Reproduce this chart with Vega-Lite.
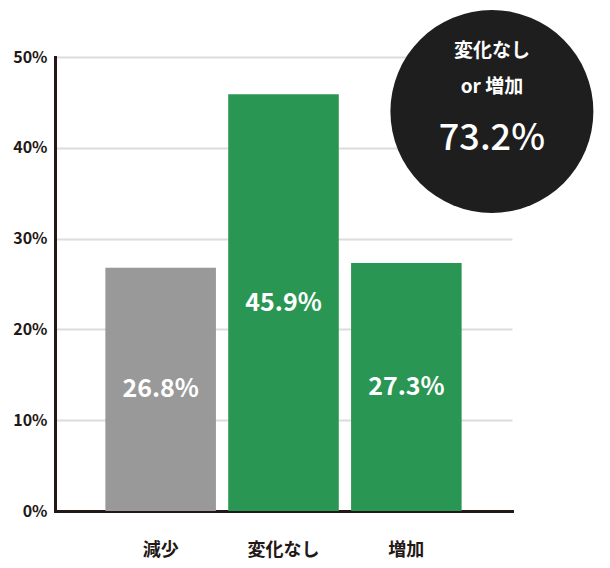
{
  "$schema": "https://vega.github.io/schema/vega-lite/v6.json",
  "width": 457,
  "height": 454,
  "autosize": {"type": "none"},
  "padding": {"left": 55, "top": 57, "right": 98, "bottom": 57},
  "background": "white",
  "datasets": {
    "bars": [
      {"category": "減少", "value": 26.8, "kind": "down"},
      {"category": "変化なし", "value": 45.9, "kind": "up"},
      {"category": "増加", "value": 27.3, "kind": "up"}
    ],
    "summary": [
      {"line1": "変化なし", "line2": "or 増加", "total": 73.2}
    ]
  },
  "layer": [
    {
      "data": {"name": "bars"},
      "layer": [
        {
          "mark": {"type": "bar"},
          "encoding": {
            "color": {
              "field": "kind",
              "type": "nominal",
              "scale": {"domain": ["down", "up"], "range": ["#999999", "#2a9653"]},
              "legend": null
            }
          }
        },
        {
          "transform": [
            {"calculate": "datum.value / 2", "as": "mid"},
            {"calculate": "format(datum.value, '.1f') + '%'", "as": "label"}
          ],
          "mark": {"type": "text", "color": "white", "fontSize": 25, "fontWeight": "bold", "font": "Noto Sans CJK JP", "baseline": "middle"},
          "encoding": {
            "y": {"field": "mid", "type": "quantitative"},
            "text": {"field": "label"}
          }
        }
      ],
      "encoding": {
        "x": {
          "field": "category",
          "type": "nominal",
          "sort": null,
          "scale": {"paddingInner": 0.1, "paddingOuter": 0.41},
          "axis": {
            "title": null,
            "labelAngle": 0,
            "labelFont": "Noto Sans CJK JP",
            "labelFontSize": 18,
            "labelFontWeight": "bold",
            "labelColor": "#231815",
            "labelPadding": 30,
            "ticks": false,
            "domainColor": "#231815",
            "domainWidth": 3
          }
        },
        "y": {
          "field": "value",
          "type": "quantitative",
          "scale": {"domain": [0, 50]},
          "axis": {
            "title": null,
            "values": [0, 10, 20, 30, 40, 50],
            "labelExpr": "datum.value + '%'",
            "labelFont": "Noto Sans CJK JP",
            "labelFontSize": 16,
            "labelFontWeight": "bold",
            "labelColor": "#231815",
            "labelPadding": 8,
            "ticks": false,
            "domainColor": "#231815",
            "domainWidth": 3,
            "gridColor": "#dcdcdc",
            "gridWidth": 2
          }
        }
      }
    },
    {
      "data": {"name": "summary"},
      "encoding": {
        "x": {"datum": 0.956, "type": "quantitative", "scale": {"domain": [0, 1]}, "axis": null},
        "y": {"datum": 44, "type": "quantitative"}
      },
      "layer": [
        {
          "mark": {"type": "point", "filled": true, "color": "#1e1e1e", "opacity": 1, "size": 41200}
        },
        {
          "mark": {"type": "text", "color": "white", "fontSize": 19, "fontWeight": "bold", "font": "Noto Sans CJK JP", "baseline": "middle", "dy": -60},
          "encoding": {"text": {"field": "line1"}}
        },
        {
          "mark": {"type": "text", "color": "white", "fontSize": 19, "fontWeight": "bold", "font": "Noto Sans CJK JP", "baseline": "middle", "dy": -24},
          "encoding": {"text": {"field": "line2"}}
        },
        {
          "transform": [{"calculate": "format(datum.total, '.1f') + '%'", "as": "totalLabel"}],
          "mark": {"type": "text", "color": "white", "fontSize": 36, "fontWeight": 500, "font": "Noto Sans CJK JP", "baseline": "middle", "dy": 28},
          "encoding": {"text": {"field": "totalLabel"}}
        }
      ]
    }
  ],
  "resolve": {"scale": {"x": "independent"}, "axis": {"x": "independent"}},
  "config": {
    "view": {"stroke": null},
    "axis": {"domainCap": "square"}
  }
}
